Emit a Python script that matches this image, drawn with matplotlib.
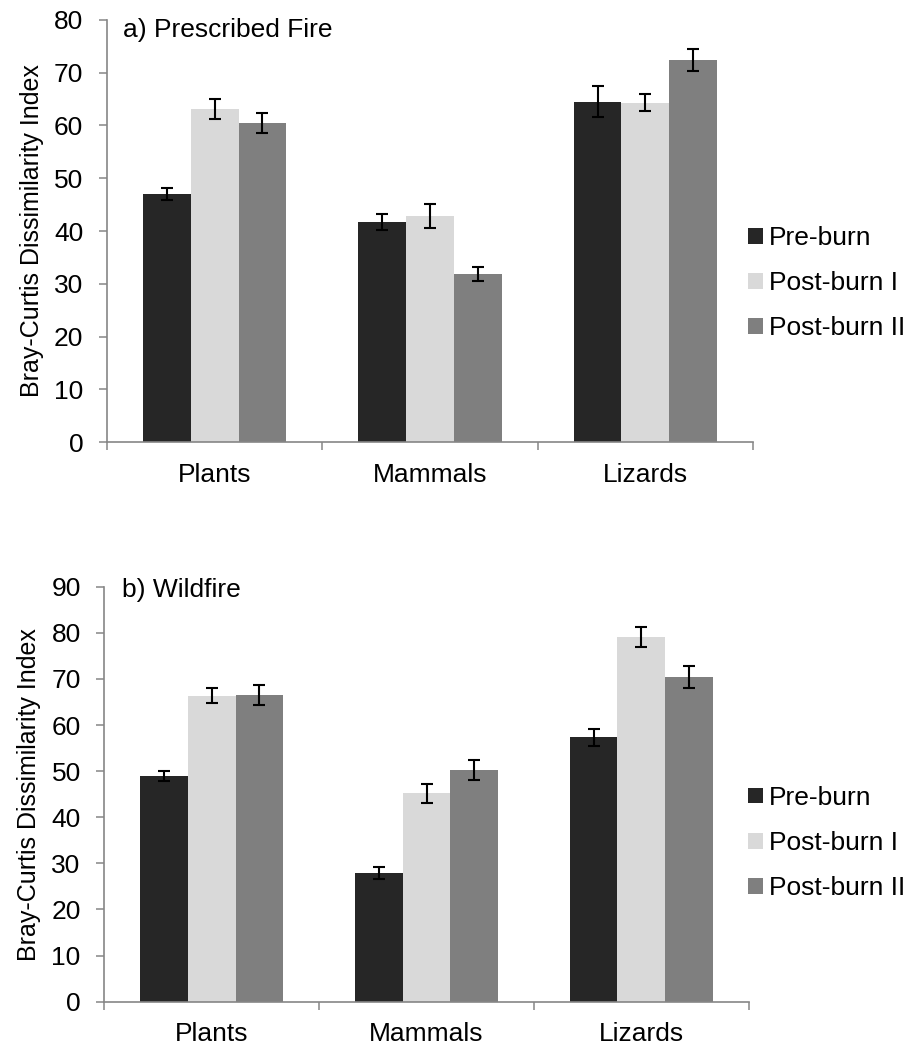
import matplotlib
matplotlib.use("Agg")
import matplotlib.pyplot as plt
import numpy as np

plt.rcParams['font.family'] = ['Liberation Sans', 'DejaVu Sans']

categories = ["Plants", "Mammals", "Lizards"]
series_names = ["Pre-burn", "Post-burn I", "Post-burn II"]
series_colors = ["#262626", "#d9d9d9", "#7f7f7f"]

# a) Prescribed fire
rx_pre = [47.0, 41.7, 64.5]
rx_pre_se = [1.1, 1.6, 2.9]
rx_post1 = [63.1, 42.9, 64.3]
rx_post1_se = [1.85, 2.3, 1.6]
rx_post2 = [60.5, 31.8, 72.4]
rx_post2_se = [1.85, 1.35, 2.1]

# b) Wildfire
wf_pre = [48.9, 27.9, 57.3]
wf_pre_se = [1.1, 1.3, 1.75]
wf_post1 = [66.4, 45.2, 79.1]
wf_post1_se = [1.6, 2.1, 2.2]
wf_post2 = [66.5, 50.3, 70.4]
wf_post2_se = [2.25, 2.2, 2.3]

FS = 19
FS_LABEL = 18
AXIS_GREY = "#868686"

fig = plt.figure(figsize=(9.08, 10.46), dpi=100)
ax_top = fig.add_axes([0.1178, 0.5774, 0.7115, 0.4035])
ax_bot = fig.add_axes([0.1149, 0.0424, 0.7097, 0.3967])


def draw_panel(ax, values, errors, ymax, title, title_xy):
    x = np.arange(len(categories))
    width = 0.222
    handles = []
    for i, (vals, errs) in enumerate(zip(values, errors)):
        b = ax.bar(x + (i - 1) * width, vals, width, color=series_colors[i],
                   label=series_names[i], zorder=2)
        ax.errorbar(x + (i - 1) * width, vals, yerr=errs, fmt='none',
                    ecolor='black', elinewidth=1.5, capsize=4.5,
                    capthick=1.5, zorder=3)
        handles.append(b)
    ax.set_xlim(-0.5, len(categories) - 0.5)
    ax.set_ylim(0, ymax)
    ax.set_yticks(np.arange(0, ymax + 1, 10))
    ax.set_xticks(x)
    ax.set_xticklabels(categories)
    ax.set_xticks(np.arange(-0.5, len(categories)), minor=True)
    ax.tick_params(axis='x', which='major', length=0, pad=15, labelsize=FS)
    ax.tick_params(axis='x', which='minor', length=6, width=1.1,
                   color=AXIS_GREY, direction='out')
    ax.tick_params(axis='y', length=6, width=1.1, color=AXIS_GREY,
                   direction='out', pad=11, labelsize=FS)
    for side in ("top", "right"):
        ax.spines[side].set_visible(False)
    for side in ("left", "bottom"):
        ax.spines[side].set_color(AXIS_GREY)
        ax.spines[side].set_linewidth(1.2)
    ax.set_ylabel("Bray-Curtis Dissimilarity Index", fontsize=FS_LABEL)
    ax.yaxis.set_label_coords(-0.098, 0.5)
    ax.text(title_xy[0], title_xy[1], title, transform=ax.transAxes,
            fontsize=FS, va='baseline', ha='left')
    return handles


h_top = draw_panel(ax_top, [rx_pre, rx_post1, rx_post2],
                   [rx_pre_se, rx_post1_se, rx_post2_se], 80,
                   "a) Prescribed Fire", (0.0243, 0.96))
h_bot = draw_panel(ax_bot, [wf_pre, wf_post1, wf_post2],
                   [wf_pre_se, wf_post1_se, wf_post2_se], 90,
                   "b) Wildfire", (0.027, 0.975))

for handles, y in ((h_top, 0.7294), (h_bot, 0.1941)):
    fig.legend(handles, series_names, loc='center left',
               bbox_to_anchor=(0.8238, y), frameon=False, fontsize=FS,
               handlelength=0.55, handleheight=0.55, handletextpad=0.25,
               labelspacing=0.8, borderpad=0, borderaxespad=0)

fig.savefig("out.png", dpi=100)
